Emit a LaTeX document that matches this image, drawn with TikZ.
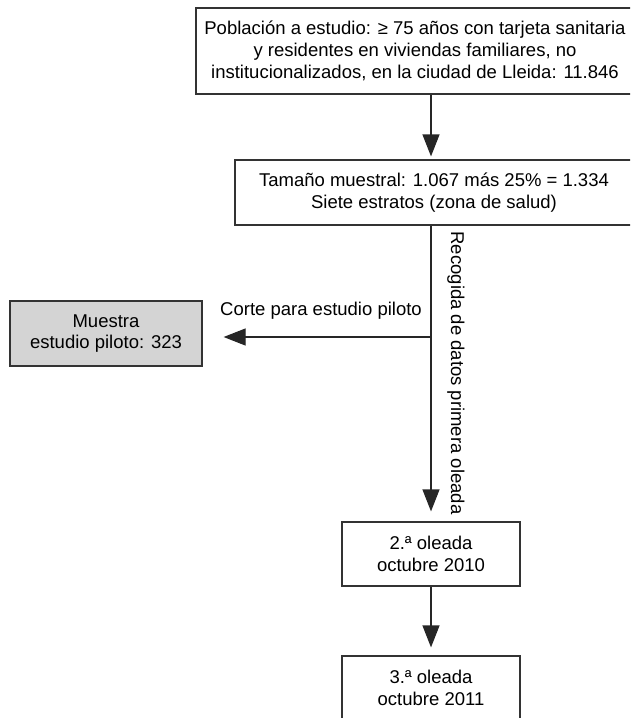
\documentclass[tikz,border=0pt]{standalone}
\usepackage{fontspec}
\setmainfont{Liberation Sans}
\usetikzlibrary{arrows.meta}
\begin{document}
\begin{tikzpicture}[x=1pt,y=-1pt,
  box/.style={draw=black!80, line width=1.2pt, align=center, inner sep=0pt,
    font=\fontsize{18.5}{21.7}\selectfont},
  lbl/.style={inner sep=0pt, font=\fontsize{18.5}{21.7}\selectfont},
  arr/.style={draw=black!85, line width=1.2pt, -{Triangle[length=22pt,width=17pt]}}]
\useasboundingbox (0,0) rectangle (630,718);
\clip (0,0) rectangle (630,718);
\node[box, minimum width=438pt, minimum height=86pt] (pop) at (415,51)
  {Población a estudio: ≥ 75 años con tarjeta sanitaria\\
   y residentes en viviendas familiares, no\\
   institucionalizados, en la ciudad de Lleida: 11.846};
\node[box, minimum width=398pt, minimum height=65pt] (mue) at (434,192.5)
  {Tamaño muestral: 1.067 más 25\% = 1.334\\Siete estratos (zona de salud)};
\node[box, fill=black!17, minimum width=192pt, minimum height=65pt] (pil) at (106,333.5)
  {Muestra\\estudio piloto: 323};
\node[box, minimum width=178pt, minimum height=64pt] (ol2) at (431,554)
  {2.ª oleada\\octubre 2010};
\node[box, minimum width=178pt, minimum height=64pt] (ol3) at (431,688)
  {3.ª oleada\\octubre 2011};
\coordinate (split) at (431,337);
\draw[arr, shorten >=3pt] (pop.south -| 431,0) -- (mue.north -| 431,0);
\draw[arr, shorten >=10pt] (mue.south -| 431,0) -- (ol2.north);
\draw[arr, shorten >=21pt] (split) -- (split -| pil.east);
\draw[arr, shorten >=8pt] (ol2.south) -- (ol3.north);
\node[lbl] (corte) at (321,311) {Corte para estudio piloto};
\node[lbl, rotate=-90] (rec) at (456,373) {Recogida de datos primera oleada};
\end{tikzpicture}
\end{document}
